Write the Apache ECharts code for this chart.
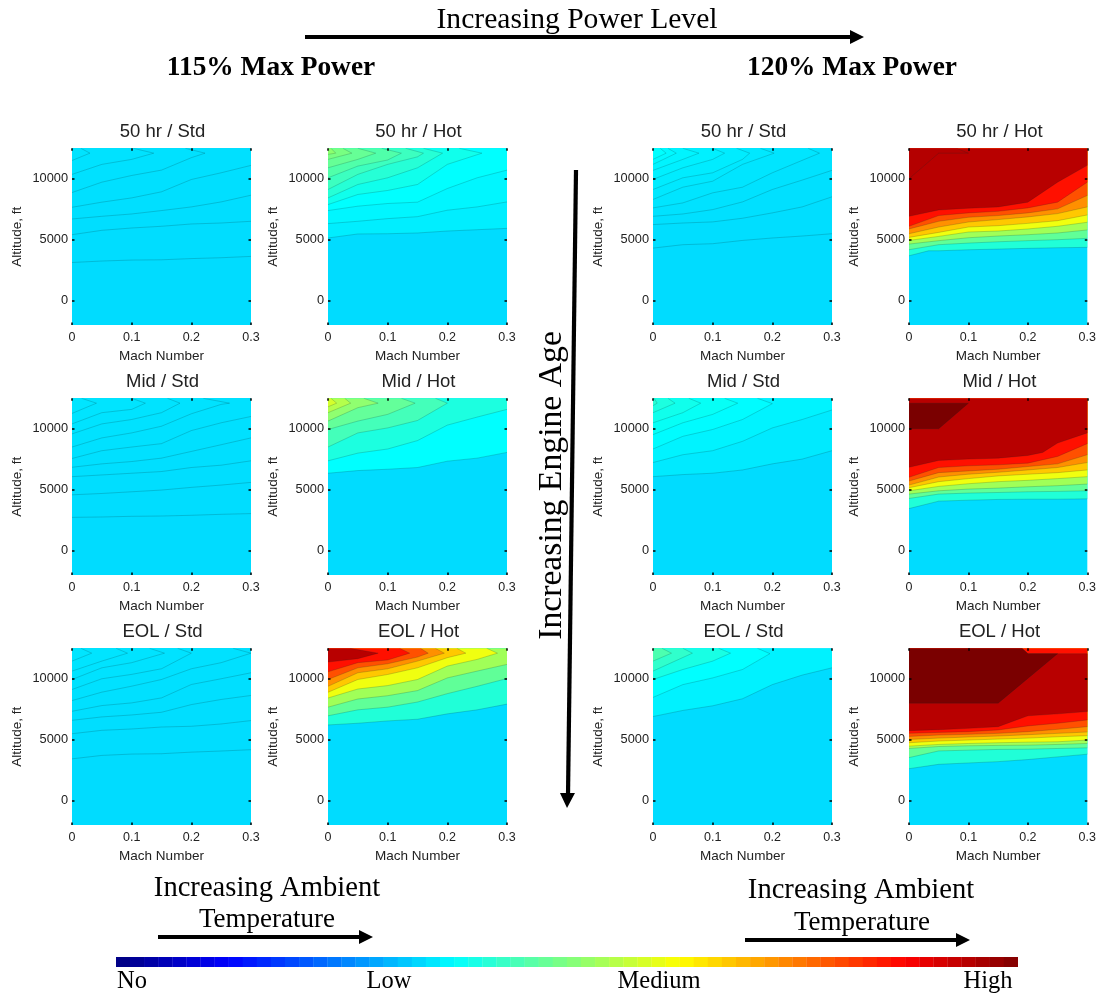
<!DOCTYPE html>
<html><head><meta charset="utf-8">
<style>html,body{margin:0;padding:0;background:#fff}#c{width:1099px;height:995px}</style>
<script src="https://cdn.jsdelivr.net/npm/echarts@6/dist/echarts.min.js"></script>
</head><body><div id="c"></div>
<script>
// Contour polylines: [mach, altitude ft]; bands are listed from low to high value.
const machTicks = [0, 0.1, 0.2, 0.3];
const altitudeTicks = [0, 5000, 10000];
const baseBand = '#00DCFF';

const std115_50 = [
 [[0,3130],[.05,3250],[.1,3330],[.15,3350],[.2,3450],[.25,3520],[.3,3630]],
 [[0,5410],[.05,5770],[.1,5960],[.15,6100],[.2,6290],[.25,6370],[.3,6510]],
 [[0,6700],[.05,6920],[.1,7110],[.15,7390],[.2,7690],[.25,8100],[.3,8650]],
 [[0,7660],[.05,8080],[.1,8430],[.15,8930],[.2,9940],[.25,10490],[.3,11100]],
 [[0,8870],[.05,9720],[.1,10270],[.15,10710],[.2,11730],[.223,12100],[.19,12500]],
 [[0,10360],[.05,11180],[.1,11590],[.137,12100],[.103,12500]],
 [[0,11500],[.03,12100],[.015,12500]]
];
const std115_50_bands = ['#00DDFF','#00DEFF','#00DFFF','#00E0FF','#00E1FF','#00E2FF','#00E3FF'];

const hot115_50 = [
 [[0,5140],[.05,5470],[.1,5490],[.15,5550],[.2,5710],[.25,5820],[.3,5930]],
 [[0,6320],[.05,6510],[.1,6730],[.15,6890],[.2,7420],[.25,7690],[.3,8100]],
 [[0,7390],[.05,7750],[.1,7970],[.15,8080],[.2,9200],[.25,10080],[.3,10710]],
 [[0,7880],[.05,8710],[.1,9040],[.15,9530],[.2,11180],[.258,12100],[.22,12500]],
 [[0,8430],[.05,9530],[.1,10080],[.15,10900],[.192,12100],[.16,12500]],
 [[0,9120],[.05,10360],[.1,11180],[.15,11800],[.16,12100],[.13,12500]],
 [[0,10080],[.05,11040],[.1,11540],[.123,12100],[.09,12500]],
 [[0,10900],[.05,11590],[.08,12100],[.05,12500]],
 [[0,11590],[.04,12100],[.025,12500]],
 [[0,12000],[.013,12100],[.005,12500]]
];
const hot115_50_bands = ['#00EEFF','#00F6FF','#00FFFF','#10FFEC','#26FFD6','#3CFFC0','#50FFAA','#66FF96','#78FF82','#8CFF6E'];

const std115_mid = [
 [[0,2730],[.05,2760],[.1,2815],[.15,2840],[.2,2900],[.25,2980],[.3,3040]],
 [[0,4580],[.05,4690],[.1,4830],[.15,4970],[.2,5190],[.25,5380],[.3,5600]],
 [[0,6070],[.05,6210],[.1,6350],[.15,6490],[.2,6820],[.25,7010],[.3,7370]],
 [[0,6840],[.05,7120],[.1,7310],[.15,7590],[.2,8140],[.25,8690],[.3,9250]],
 [[0,7560],[.05,8200],[.1,8500],[.15,8780],[.2,9850],[.25,10490],[.3,11010]],
 [[0,8500],[.05,9250],[.1,9660],[.15,10210],[.2,11230],[.25,12000],[.264,12100],[.22,12500]],
 [[0,9580],[.05,10400],[.1,10760],[.15,11320],[.181,12100],[.16,12500]],
 [[0,10400],[.05,11320],[.1,11590],[.123,12100],[.1,12500]],
 [[0,11260],[.041,12100],[.016,12500]]
];
const std115_mid_bands = ['#00DDFF','#00DEFF','#00DFFF','#00E0FF','#00E1FF','#00E2FF','#00E3FF','#00E4FF','#00E5FF'];

const hot115_mid = [
 [[0,6350],[.05,6570],[.1,6680],[.15,6820],[.2,7340],[.25,7590],[.3,8060]],
 [[0,7370],[.05,8000],[.1,8340],[.15,9030],[.2,10300],[.25,10960],[.3,11590]],
 [[0,8500],[.05,9660],[.1,10070],[.15,10680],[.2,12100],[.18,12500]],
 [[0,9940],[.05,10630],[.1,11180],[.146,12100],[.123,12500]],
 [[0,10630],[.05,11730],[.084,12100],[.06,12500]],
 [[0,11320],[.038,12100],[.028,12500]],
 [[0,11800],[.0145,12100],[.005,12500]]
];
const hot115_mid_bands = ['#00FFFF','#1CFFE0','#44FFBA','#64FF9A','#90FF70','#B4FF4C','#D4FF2C'];

const std115_eol = [
 [[0,3430],[.05,3710],[.1,3820],[.15,3850],[.2,3980],[.25,4070],[.3,4180]],
 [[0,5490],[.05,5770],[.1,5880],[.15,6040],[.2,6100],[.25,6290],[.3,6570]],
 [[0,6590],[.05,6870],[.1,7030],[.15,7250],[.2,7880],[.25,8300],[.3,8630]],
 [[0,7330],[.05,7800],[.1,8020],[.15,8430],[.2,9530],[.25,10000],[.3,10490]],
 [[0,8210],[.05,8900],[.1,9390],[.15,9940],[.2,10820],[.25,11320],[.3,12100],[.27,12500]],
 [[0,9120],[.05,10000],[.1,10360],[.15,10820],[.2,12100],[.177,12500]],
 [[0,9940],[.05,10900],[.1,11320],[.155,12100],[.13,12500]],
 [[0,10630],[.05,11450],[.093,12100],[.074,12500]],
 [[0,11450],[.033,12100],[.015,12500]]
];
const std115_eol_bands = ['#00DDFF','#00DEFF','#00DFFF','#00E0FF','#00E1FF','#00E2FF','#00E3FF','#00E4FF','#00E5FF'];

const hot115_eol = [
 [[0,6210],[.05,6350],[.1,6540],[.15,6680],[.2,7120],[.25,7450],[.3,7920]],
 [[0,6960],[.05,7450],[.1,7670],[.15,8090],[.2,8780],[.25,9380],[.3,10020]],
 [[0,7670],[.05,8340],[.1,8610],[.15,9030],[.2,10070],[.25,10630],[.3,11180]],
 [[0,8420],[.05,9160],[.1,9440],[.15,9940],[.2,11040],[.25,11590],[.284,12100],[.266,12500]],
 [[0,8890],[.05,9940],[.1,10350],[.15,10900],[.2,11730],[.231,12100],[.216,12500]],
 [[0,9380],[.05,10490],[.1,10820],[.15,11450],[.195,12100],[.18,12500]],
 [[0,9940],[.05,10900],[.1,11230],[.15,11780],[.168,12100],[.155,12500]],
 [[0,10570],[.05,11320],[.1,11540],[.137,12100],[.12,12500]],
 [[0,11370],[.05,11650],[.084,12100],[.037,12500]]
];
const hot115_eol_bands = ['#20FFD8','#60FF98','#A0FF58','#F0FF10','#FFC800','#FF9000','#FF5000','#FF1000','#B80000'];

const std120_50 = [
 [[0,4310],[.05,4590],[.1,4670],[.15,4940],[.2,5140],[.25,5300],[.3,5490]],
 [[0,6240],[.05,6370],[.1,6460],[.15,6760],[.2,7200],[.25,7690],[.3,8520]],
 [[0,6920],[.05,7110],[.1,7470],[.15,8100],[.2,9120],[.25,9890],[.3,10690]],
 [[0,7610],[.05,8020],[.1,8845],[.15,9310],[.2,10490],[.25,11510],[.279,12100],[.26,12500]],
 [[0,8300],[.05,9310],[.1,9800],[.15,11180],[.203,12100],[.18,12500]],
 [[0,9120],[.05,10080],[.1,10490],[.15,11590],[.162,12100],[.14,12500]],
 [[0,9950],[.05,10900],[.1,11590],[.12,12100],[.1,12500]],
 [[0,10690],[.05,11590],[.077,12100],[.05,12500]],
 [[0,11180],[.039,12100],[.025,12500]],
 [[0,11590],[.022,12100],[.012,12500]]
];
const std120_50_bands = ['#00DEFF','#00E0FF','#00E2FF','#00E5FF','#00E8FF','#00ECFF','#00F0FF','#00F4FF','#00F9FF','#00FFFF'];

const hot120_50 = [
 [[0,3680],[.033,4090],[.05,4090],[.1,4175],[.15,4230],[.2,4290],[.25,4340],[.3,4370]],
 [[0,4180],[.05,4590],[.1,4720],[.15,4830],[.2,4920],[.25,5000],[.3,5110]],
 [[0,4640],[.05,4920],[.1,5160],[.15,5300],[.2,5410],[.25,5550],[.3,5800]],
 [[0,4940],[.05,5270],[.1,5630],[.15,5710],[.2,5880],[.25,6100],[.3,6430]],
 [[0,5190],[.05,5600],[.1,6040],[.15,6150],[.2,6340],[.25,6560],[.3,7030]],
 [[0,5490],[.05,6040],[.1,6450],[.15,6650],[.2,6870],[.25,7140],[.3,7690]],
 [[0,5880],[.05,6510],[.1,6840],[.15,6980],[.2,7200],[.25,7530],[.3,8630]],
 [[0,6100],[.05,6980],[.1,7200],[.15,7330],[.2,7610],[.25,8080],[.3,9720]],
 [[0,6920],[.05,7440],[.1,7580],[.15,7690],[.2,8080],[.25,9720],[.3,11100]],
 [[0,10000],[.05,12100],[.1,12100],[.08,12500]]
];
const hot120_50_bands = ['#20FFD8','#60FF98','#A0FF58','#F0FF10','#FFC800','#FF9000','#FF5000','#FF1000','#B80000','#B40000'];

const std120_mid = [
 [[0,6070],[.05,6240],[.1,6350],[.15,6620],[.2,7120],[.25,7510],[.3,8200]],
 [[0,7230],[.05,7870],[.1,8200],[.15,8970],[.2,10070],[.25,10760],[.3,11540]],
 [[0,8340],[.05,9380],[.1,9940],[.15,10760],[.2,12060],[.175,12500]],
 [[0,9520],[.05,10490],[.1,11180],[.142,12100],[.12,12500]],
 [[0,10490],[.05,11320],[.08,12100],[.06,12500]],
 [[0,11320],[.037,12100],[.025,12500]],
 [[0,11900],[.007,12100],[.002,12500]]
];
const std120_mid_bands = ['#00EAFF','#00F3FF','#00FCFF','#06FFF6','#10FFEC','#1CFFE0','#28FFD4'];

const hot120_mid = [
 [[0,3450],[.05,4060],[.1,4140],[.15,4200],[.2,4220],[.25,4220],[.3,4250]],
 [[0,4280],[.05,4640],[.1,4720],[.15,4770],[.2,4830],[.25,4860],[.3,4910]],
 [[0,4640],[.05,4910],[.1,5050],[.15,5130],[.2,5240],[.25,5330],[.3,5460]],
 [[0,4910],[.05,5270],[.1,5490],[.15,5660],[.2,5770],[.25,5910],[.3,6070]],
 [[0,5160],[.05,5660],[.1,5910],[.15,6130],[.2,6270],[.25,6400],[.3,6620]],
 [[0,5380],[.05,6040],[.1,6270],[.15,6430],[.2,6620],[.25,6820],[.3,7230]],
 [[0,5710],[.05,6400],[.1,6540],[.15,6680],[.2,6900],[.25,7120],[.3,7870]],
 [[0,6020],[.05,6820],[.1,6960],[.15,7040],[.2,7180],[.25,7730],[.3,8780]],
 [[0,6840],[.05,7400],[.1,7510],[.15,7590],[.2,7810],[.225,8060],[.25,8830],[.3,9660]],
 [[0,10000],[.05,10000],[.1,12100],[0,12100]]
];
const hot120_mid_bands = ['#20FFD8','#60FF98','#A0FF58','#F0FF10','#FFC800','#FF9000','#FF5000','#FF1000','#B80000','#7A0000'];

const std120_eol = [
 [[0,6900],[.05,7400],[.1,7780],[.15,8360],[.2,9520],[.25,10300],[.3,10900]],
 [[0,8470],[.05,9520],[.1,10070],[.15,10760],[.196,12060],[.175,12500]],
 [[0,9940],[.05,10760],[.1,11450],[.13,12100],[.11,12500]],
 [[0,10630],[.066,12100],[.05,12500]],
 [[0,11450],[.031,12100],[.015,12500]]
];
const std120_eol_bands = ['#00F2FF','#00FFFF','#18FFE4','#30FFCC','#4CFFB0'];

const hot120_eol = [
 [[0,2620],[.05,2980],[.1,3090],[.15,3200],[.2,3370],[.25,3590],[.3,3810]],
 [[0,3530],[.05,4080],[.1,4140],[.15,4200],[.2,4220],[.25,4280],[.3,4330]],
 [[0,4280],[.05,4440],[.1,4500],[.15,4530],[.2,4550],[.25,4610],[.3,4690]],
 [[0,4470],[.05,4610],[.1,4690],[.15,4750],[.2,4800],[.25,4830],[.3,4970]],
 [[0,4750],[.05,4890],[.1,4970],[.15,5050],[.2,5130],[.25,5240],[.3,5330]],
 [[0,5020],[.05,5130],[.1,5220],[.15,5300],[.2,5410],[.25,5520],[.3,5630]],
 [[0,5270],[.05,5380],[.1,5440],[.15,5520],[.2,5660],[.25,5850],[.3,6070]],
 [[0,5520],[.05,5600],[.1,5660],[.15,5800],[.2,6130],[.25,6350],[.3,6620]],
 [[0,5740],[.05,5820],[.1,5930],[.15,6070],[.2,6960],[.25,7120],[.3,7310],[.3,12060],[.2,12060],[.19,12500]],
 [[0,8000],[.15,8000],[.25,12060],[.2,12060],[.19,12500]]
];
const hot120_eol_bands = ['#20FFD8','#60FF98','#A0FF58','#F0FF10','#FFC800','#FF9000','#FF5000','#FF1000','#B80000','#7A0000'];

const colorbarLevels = [1,1,1,1,1,1,1,1,1,1,1,1,1,1,1,1,1,1,1,1,1,1,1,1,1,1,1,1,1,1,1,1,
                        1,1,1,1,1,1,1,1,1,1,1,1,1,1,1,1,1,1,1,1,1,1,1,1,1,1,1,1,1,1,1,1];

const panels = [
 {t:'50 hr / Std', c:0,r:0,d:std115_50, b:std115_50_bands},
 {t:'50 hr / Hot', c:1,r:0,d:hot115_50, b:hot115_50_bands},
 {t:'50 hr / Std', c:2,r:0,d:std120_50, b:std120_50_bands},
 {t:'50 hr / Hot', c:3,r:0,d:hot120_50, b:hot120_50_bands},
 {t:'Mid / Std',   c:0,r:1,d:std115_mid,b:std115_mid_bands},
 {t:'Mid / Hot',   c:1,r:1,d:hot115_mid,b:hot115_mid_bands},
 {t:'Mid / Std',   c:2,r:1,d:std120_mid,b:std120_mid_bands},
 {t:'Mid / Hot',   c:3,r:1,d:hot120_mid,b:hot120_mid_bands},
 {t:'EOL / Std',   c:0,r:2,d:std115_eol,b:std115_eol_bands},
 {t:'EOL / Hot',   c:1,r:2,d:hot115_eol,b:hot115_eol_bands},
 {t:'EOL / Std',   c:2,r:2,d:std120_eol,b:std120_eol_bands},
 {t:'EOL / Hot',   c:3,r:2,d:hot120_eol,b:hot120_eol_bands}
];

const colX = [72, 328, 653, 909], rowY = [148.3, 398.3, 648.3], W = 179, H = 176.7;
const textCol = '#222', sans = 'Liberation Sans', serif = 'Liberation Serif';
const opt = {animation:false, backgroundColor:'#fff', title:[], grid:[], xAxis:[], yAxis:[], series:[]};
const tick = {show:true, inside:true, length:2.5, lineStyle:{color:'#000', width:1.5}};
const noLine = {show:false, onZero:false};

panels.forEach((p, i) => {
  const x = colX[p.c], y = rowY[p.r];
  opt.title.push({text:p.t, left:x+W/2-4, top:y-31, textAlign:'center',
    textStyle:{fontFamily:sans, fontSize:18.5, fontWeight:'normal', color:textCol}});
  opt.grid.push({left:x, top:y, width:W, height:H, show:true, backgroundColor:baseBand, borderWidth:0});
  const xa = {type:'value', gridIndex:i, min:0, max:0.3, z:10, splitLine:{show:false}, axisLine:noLine,
    axisTick:Object.assign({customValues:machTicks}, tick)};
  const ya = {type:'value', gridIndex:i, min:-2000, max:12500, z:10, splitLine:{show:false}, axisLine:noLine,
    axisTick:Object.assign({customValues:altitudeTicks}, tick)};
  opt.xAxis.push(Object.assign({}, xa, {position:'bottom', name:'Mach Number', nameLocation:'middle', nameGap:24,
    nameTextStyle:{fontFamily:sans, fontSize:13.5, color:textCol},
    axisLabel:{customValues:machTicks, margin:6, fontFamily:sans, fontSize:12.5, color:textCol, formatter:v=>String(v)}}));
  opt.xAxis.push(Object.assign({}, xa, {position:'top', axisLabel:{show:false}}));
  opt.yAxis.push(Object.assign({}, ya, {position:'left', name:'Altitude, ft', nameLocation:'middle', nameGap:48, nameRotate:90,
    nameTextStyle:{fontFamily:sans, fontSize:13.5, color:textCol},
    axisLabel:{customValues:altitudeTicks, margin:4, fontFamily:sans, fontSize:12.8, color:textCol, formatter:v=>String(v)}}));
  opt.yAxis.push(Object.assign({}, ya, {position:'right', axisLabel:{show:false}}));
  p.d.forEach((pts, k) => {
    opt.series.push({type:'custom', xAxisIndex:i*2, yAxisIndex:i*2, coordinateSystem:'cartesian2d', z:2+k*0.01,
      clip:true, silent:true, data:pts, encode:{x:0,y:1},
      renderItem:(params, api) => {
        if (params.dataIndex !== 0) return null;
        const line = pts.map(q => api.coord(q));
        const last = pts[pts.length-1];
        const poly = line.concat([api.coord([last[0],12500]), api.coord([0,12500])]);
        return {type:'group', children:[
          {type:'polygon', shape:{points:poly}, style:{fill:p.b[k], stroke:null}},
          {type:'polyline', shape:{points:line}, style:{fill:null, stroke:'rgba(0,40,40,0.24)', lineWidth:0.8}}
        ]};
      }});
  });
});

// Colour bar
function jet(i){ const t=(i+0.5)/64; const f=c=>Math.round(255*Math.max(0,Math.min(1,1.5-Math.abs(4*t-c))));
  return 'rgb('+f(3)+','+f(2)+','+f(1)+')'; }
opt.grid.push({left:116, top:957, width:902, height:10, show:false});
opt.xAxis.push({type:'category', gridIndex:12, show:false, data:colorbarLevels.map((_,i)=>i+1)});
opt.yAxis.push({type:'value', gridIndex:12, show:false, min:0, max:1});
opt.series.push({type:'bar', xAxisIndex:24, yAxisIndex:24, barWidth:'102%', silent:true, data:colorbarLevels,
  itemStyle:{color:q=>jet(q.dataIndex)}});

// Annotations
const label = (text,x,y,size,extra) => ({type:'text', x, y, style:Object.assign({text, fontFamily:serif, fontSize:size, fill:'#000', align:'center', verticalAlign:'middle'}, extra||{})});
const hArrow = (x0,x1,y) => [
  {type:'line', shape:{x1:x0,y1:y,x2:x1-12,y2:y}, style:{stroke:'#000', lineWidth:4}},
  {type:'polygon', shape:{points:[[x1-14,y-7],[x1,y],[x1-14,y+7]]}, style:{fill:'#000'}}];
const engineAge = label('Increasing Engine Age',552,485.5,33.7);
engineAge.rotation = Math.PI/2;
opt.graphic = {elements:[
  label('Increasing Power Level',577,20,29.6),
  label('115% Max Power',271,68,27.4,{fontWeight:'bold'}),
  label('120% Max Power',852,68,27.4,{fontWeight:'bold'}),
  ...hArrow(305,864,37),
  engineAge,
  {type:'line', shape:{x1:576,y1:170,x2:568,y2:795}, style:{stroke:'#000', lineWidth:4.2}},
  {type:'polygon', shape:{points:[[560,793],[567,808],[575,793]]}, style:{fill:'#000'}},
  label('Increasing Ambient',267,888,28.6),
  label('Temperature',267,920,27),
  ...hArrow(158,373,937),
  label('Increasing Ambient',861,890,28.6),
  label('Temperature',862,923,27),
  ...hArrow(745,970,940),
  label('No',132,982,24.5),
  label('Low',389,982,24.5),
  label('Medium',659,982,24.5),
  label('High',988,982,24.5)
]};

const chart = echarts.init(document.getElementById('c'), null, {renderer:'canvas'});
chart.setOption(opt);
</script></body></html>
